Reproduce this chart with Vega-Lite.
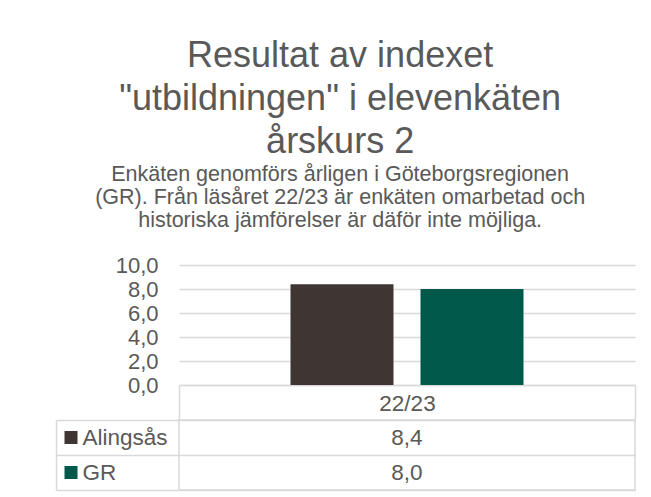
{
  "$schema": "https://vega.github.io/schema/vega-lite/v6.json",
  "background": "white",
  "padding": {"left": 54, "top": 37, "right": 5, "bottom": 5},
  "config": {
    "locale": {"number": {"decimal": ",", "thousands": " ", "grouping": [3], "currency": ["", " kr"]}},
    "font": "Liberation Sans",
    "view": {"stroke": null},
    "axis": {"labelColor": "#595959", "labelFont": "Liberation Sans"}
  },
  "title": {
    "text": ["Resultat av indexet", "\"utbildningen\" i elevenkäten", "årskurs 2"],
    "subtitle": ["Enkäten genomförs årligen i Göteborgsregionen", "(GR). Från läsåret 22/23 är enkäten omarbetad och", "historiska jämförelser är däför inte möjliga."],
    "font": "Liberation Sans",
    "subtitleFont": "Liberation Sans",
    "fontSize": 36,
    "lineHeight": 43,
    "fontWeight": "normal",
    "color": "#595959",
    "subtitleFontSize": 21.5,
    "subtitleLineHeight": 23,
    "subtitleColor": "#595959",
    "subtitlePadding": 3,
    "anchor": "middle",
    "frame": "bounds",
    "baseline": "top",
    "offset": 22,
    "dx": -5
  },
  "data": {"values": [
    {"series": "Alingsås", "period": "22/23", "value": 8.4},
    {"series": "GR", "period": "22/23", "value": 8.0}
  ]},
  "bounds": "flush",
  "spacing": 35,
  "vconcat": [
    {
      "width": 456,
      "height": 120,
      "mark": {"type": "bar"},
      "encoding": {
        "x": {
          "field": "period", "type": "nominal",
          "scale": {"paddingInner": 0, "paddingOuter": 0},
          "axis": {"title": null, "labelAngle": 0, "tickBand": "extent", "tickSize": 35, "tickColor": "#d9d9d9", "tickWidth": 1.5, "domainColor": "#d9d9d9", "domainWidth": 1.5, "labelFontSize": 22.5, "labelPadding": -17, "labelBaseline": "middle"}
        },
        "xOffset": {"field": "series", "type": "nominal", "scale": {"domain": ["Alingsås", "GR"], "paddingInner": 0.2077, "paddingOuter": 0.8577}},
        "y": {
          "field": "value", "type": "quantitative",
          "scale": {"domain": [0, 10]},
          "axis": {"title": null, "values": [0, 2, 4, 6, 8, 10], "format": ".1f", "domain": false, "ticks": false, "labelPadding": 21, "labelFontSize": 22, "gridColor": "#d9d9d9", "gridWidth": 1.5}
        },
        "color": {"field": "series", "type": "nominal", "scale": {"domain": ["Alingsås", "GR"], "range": ["#3f3633", "#00594b"]}, "legend": null}
      }
    },
    {
      "width": 456,
      "height": 70,
      "view": {"stroke": "#d9d9d9", "strokeWidth": 1.5},
      "resolve": {"axis": {"y": "independent"}},
      "layer": [
        {
          "mark": {"type": "text", "fontSize": 22.5, "color": "#595959", "font": "Liberation Sans"},
          "encoding": {
            "x": {"field": "period", "type": "nominal", "scale": {"paddingInner": 0, "paddingOuter": 0}, "axis": null},
            "y": {
              "field": "series", "type": "nominal",
              "scale": {"domain": ["Alingsås", "GR"], "paddingInner": 0, "paddingOuter": 0},
              "axis": {"orient": "left", "title": null, "tickBand": "extent", "tickSize": 123, "tickColor": "#d9d9d9", "tickWidth": 1.5, "grid": true, "gridColor": "#d9d9d9", "gridWidth": 1.5, "domain": false, "labelAlign": "left", "labelPadding": -26, "labelFontSize": 22.5, "labelColor": "#595959"}
            },
            "text": {"field": "value", "type": "quantitative", "format": ".1f"}
          }
        },
        {
          "mark": {"type": "text", "text": ""},
          "encoding": {
            "y": {
              "field": "series", "type": "nominal",
              "axis": {"orient": "left", "title": null, "offset": 102, "labels": false, "domain": false, "grid": false, "ticks": true, "tickSize": 13, "tickWidth": 13, "tickColor": {"condition": {"test": "datum.value === 'Alingsås'", "value": "#3f3633"}, "value": "#00594b"}}
            }
          }
        },
        {
          "mark": {"type": "text", "text": ""},
          "encoding": {
            "y": {
              "field": "series", "type": "nominal",
              "axis": {"orient": "left", "title": null, "offset": 123, "labels": false, "grid": false, "ticks": false, "domain": true, "domainColor": "#d9d9d9", "domainWidth": 1.5}
            }
          }
        }
      ]
    }
  ]
}
